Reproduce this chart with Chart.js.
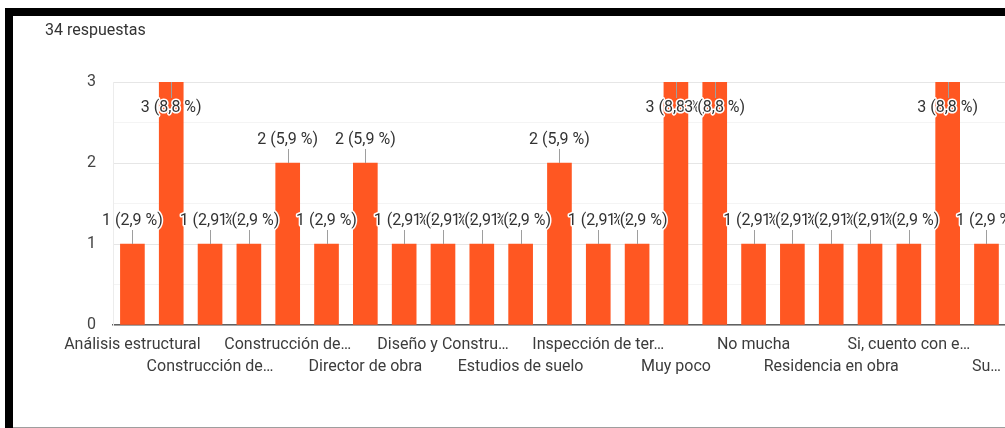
<!DOCTYPE html>
<html>
<head>
<meta charset="utf-8">
<script src="https://cdn.jsdelivr.net/npm/chart.js@4"></script>
<style>
  html, body { margin: 0; padding: 0; background: #fff; overflow: hidden; }
  body { width: 1005px; height: 428px; position: relative; }
  #frameTop { position: absolute; left: 5px; top: 8px; width: 1000px; height: 8px; background: #000; }
  #frameLeft { position: absolute; left: 5px; top: 8px; width: 8px; height: 420px; background: #000; }
  #frameBottom { position: absolute; left: 13px; top: 427px; width: 992px; height: 1px; background: #9e9e9e; }
  #count { position: absolute; left: 45px; top: 20px; font: 16px Roboto, sans-serif; color: #333; }
  #wrap { position: absolute; left: 0; top: 0; width: 1010px; height: 428px; }
</style>
</head>
<body>
<div id="wrap"><canvas id="barChart"></canvas></div>
<div id="frameTop"></div>
<div id="frameLeft"></div>
<div id="frameBottom"></div>
<div id="count">34 respuestas</div>
<script>
// answers, in the order of the chart (odd ones have no visible label)
const categories = [
  "Análisis estructural", "", "Construcción de…", "", "Construcción de…", "",
  "Director de obra", "", "Diseño y Constru…", "", "Estudios de suelo", "",
  "Inspección de ter…", "", "Muy poco", "", "No mucha", "",
  "Residencia en obra", "", "Si, cuento con e…", "", "Su…",
];
const counts = [1, 3, 1, 1, 2, 1, 2, 1, 1, 1, 1, 2, 1, 1, 3, 3, 1, 1, 1, 1, 1, 3, 1];
const yTicks = [0, 1, 2, 3];
const totalAnswers = 34;

function pctText(v) {
  const pct = ((v / totalAnswers) * 100).toFixed(1).replace(".", ",");
  return `${v} (${pct} %)`;
}

// labels with a little gray leader line, drawn one after the other
const leaderLabels = {
  id: "leaderLabels",
  afterDatasetsDraw(chart) {
    const ctx = chart.ctx;
    const area = chart.chartArea;
    const meta = chart.getDatasetMeta(0);
    ctx.save();
    ctx.font = "16px Roboto, sans-serif";
    ctx.textAlign = "center";
    ctx.textBaseline = "middle";
    ctx.lineJoin = "round";
    meta.data.forEach((bar, i) => {
      const text = pctText(counts[i]);
      const above = bar.y - area.top > 30;
      const ly = above ? bar.y - 23 : bar.y + 26;
      const x = Math.round(bar.x) + 0.5;
      ctx.strokeStyle = "#9e9e9e";
      ctx.lineWidth = 1;
      ctx.beginPath();
      ctx.moveTo(x, bar.y);
      ctx.lineTo(x, above ? bar.y - 14 : bar.y + 16);
      ctx.stroke();
      ctx.strokeStyle = "#fff";
      ctx.lineWidth = 3;
      ctx.strokeText(text, bar.x, ly);
      ctx.fillStyle = "#333";
      ctx.fillText(text, bar.x, ly);
    });
    ctx.restore();
  },
};

const ctx = document.getElementById("barChart").getContext("2d");

new Chart(ctx, {
  type: "bar",
  data: {
    labels: categories,
    datasets: [
      {
        data: counts,
        backgroundColor: "#ff5722",
        barThickness: 24,
      },
    ],
  },
  plugins: [leaderLabels],
  options: {
    responsive: true,
    maintainAspectRatio: false,
    animation: false,
    layout: { padding: { top: 82, left: 0, right: 0, bottom: 0 } },
    plugins: {
      legend: { display: false },
      tooltip: { enabled: false },
    },
    scales: {
      x: {
        grid: { display: false, drawTicks: false },
        border: { color: "#616161", width: 1.5 },
        afterFit: (scale) => { scale.height = 103; },
        ticks: {
          autoSkip: false,
          minRotation: 0,
          maxRotation: 0,
          padding: 9,
          color: "#3c3c3c",
          font: { family: "Roboto, sans-serif", size: 16, lineHeight: 1.375 },
          callback: function (value, index) {
            const label = categories[index];
            if (index % 4 === 2) return ["", label];
            return label;
          },
        },
      },
      y: {
        min: 0,
        max: 3,
        afterFit: (scale) => { scale.width = 113; },
        border: { color: "#ececec" },
        grid: {
          drawTicks: false,
          color: (c) => (Number.isInteger(c.tick.value) ? "#e6e6e6" : "#f4f4f4"),
        },
        ticks: {
          stepSize: 0.5,
          padding: 17,
          color: "#444",
          font: { family: "Roboto, sans-serif", size: 16 },
          callback: (value) => (yTicks.includes(value) ? value : ""),
        },
      },
    },
  },
});
</script>
</body>
</html>
